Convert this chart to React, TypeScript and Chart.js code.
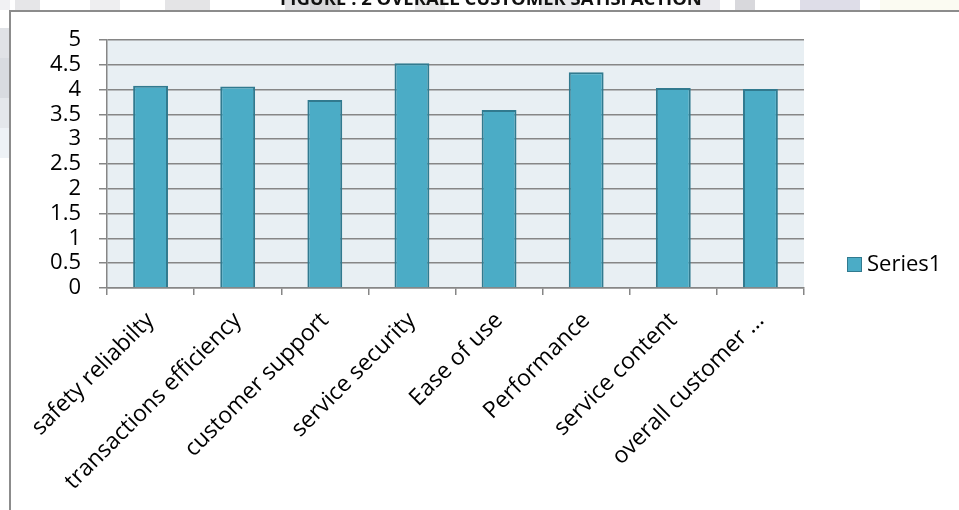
import React, { useEffect, useRef } from "react";
import { Chart, registerables } from "chart.js";

Chart.register(...registerables);

const categories: string[] = [
  "safety reliabilty",
  "transactions efficiency",
  "customer support",
  "service security",
  "Ease of use",
  "Performance",
  "service content",
  "overall customer ...",
];
const seriesName = "Series1";
const series1: number[] = [4.08, 4.06, 3.79, 4.53, 3.59, 4.35, 4.03, 4.01];
const yMin = 0;
const yMax = 5;
const yStep = 0.5;
const titleText = "FIGURE : 2 OVERALL CUSTOMER SATISFACTION";

const FONT = "'Open Sans', 'Noto Sans', sans-serif";
const BAR_FILL = "#4bacc6";
const BAR_EDGE = "#317a8f";
const GRID = "#868686";
const PLOT_BG = "#e8eff3";

const decorPlugin = {
  id: "decor",
  beforeDraw(chart: any) {
    const { ctx, width, height, chartArea } = chart;
    ctx.save();
    ctx.fillStyle = "#ffffff";
    ctx.fillRect(0, 0, width, height);
    // faint scanned-page blocks around the frame
    const blocks: [number, number, number, number, string][] = [
      [0, 0, 10, 10, "#f1f1f3"],
      [15, 0, 25, 10, "#e6e6e8"],
      [90, 0, 30, 10, "#eeeef0"],
      [165, 0, 45, 10, "#e4e4e6"],
      [285, 0, 25, 10, "#e2e2e4"],
      [310, 0, 30, 10, "#d6d6d9"],
      [415, 0, 30, 10, "#e9e9eb"],
      [540, 0, 40, 10, "#e6e6e9"],
      [690, 0, 30, 10, "#eaeaee"],
      [735, 0, 20, 10, "#d8d8dc"],
      [800, 0, 60, 10, "#dedde8"],
      [880, 0, 79, 10, "#fbfbf2"],
      [0, 28, 9, 30, "#e0e2e6"],
      [0, 58, 9, 40, "#d8dbe0"],
      [0, 98, 9, 30, "#e4e7eb"],
      [0, 128, 9, 30, "#eef2f6"],
    ];
    for (const [x, y, w, h, c] of blocks) {
      ctx.fillStyle = c;
      ctx.fillRect(x, y, w, h);
    }
    // plot area background
    ctx.fillStyle = PLOT_BG;
    ctx.fillRect(chartArea.left, chartArea.top, chartArea.right - chartArea.left, chartArea.bottom - chartArea.top);
    // frame
    ctx.strokeStyle = "#8c8c8c";
    ctx.lineWidth = 2;
    ctx.beginPath();
    ctx.moveTo(10, height + 5);
    ctx.lineTo(10, 11);
    ctx.lineTo(width + 5, 11);
    ctx.stroke();
    // title (cut off by the top edge)
    ctx.fillStyle = "#111";
    ctx.font = `bold 18.5px ${FONT}`;
    ctx.textAlign = "center";
    ctx.textBaseline = "alphabetic";
    ctx.fillText(titleText, 491, 5);
    ctx.restore();
  },
  afterDraw(chart: any) {
    const { ctx } = chart;
    const ds = chart.data.datasets[0];
    ctx.save();
    ctx.fillStyle = ds.backgroundColor;
    ctx.fillRect(847, 257, 15, 15);
    ctx.strokeStyle = ds.borderColor;
    ctx.lineWidth = 1;
    ctx.strokeRect(847.5, 257.5, 14, 14);
    ctx.fillStyle = "#000";
    ctx.font = `22px ${FONT}`;
    ctx.textAlign = "left";
    ctx.textBaseline = "middle";
    ctx.fillText(ds.label, 867, 265);
    ctx.restore();
  },
};

export default function App() {
  const ref = useRef<HTMLCanvasElement | null>(null);
  useEffect(() => {
    if (!ref.current) return;
    const chart = new Chart(ref.current, {
      type: "bar",
      data: {
        labels: categories,
        datasets: [
          {
            label: seriesName,
            data: series1,
            backgroundColor: BAR_FILL,
            borderColor: BAR_EDGE,
            borderWidth: 2,
            categoryPercentage: 1,
            barPercentage: 0.4,
          },
        ],
      },
      options: {
        animation: false,
        responsive: false,
        devicePixelRatio: 1,
        layout: { padding: { left: 0, top: 40, right: 155, bottom: 0 } },
        plugins: { legend: { display: false }, tooltip: { enabled: false }, title: { display: false } },
        scales: {
          x: {
            offset: true,
            afterFit: (s: any) => {
              s.height = 222;
            },
            grid: {
              offset: true,
              drawOnChartArea: false,
              drawTicks: true,
              tickLength: 7,
              color: GRID,
              lineWidth: 1.5,
            },
            border: { color: GRID, width: 1.5 },
            ticks: {
              autoSkip: false,
              maxRotation: 45,
              minRotation: 45,
              padding: 12,
              color: "#000",
              font: { family: FONT, size: 23 },
            },
          },
          y: {
            min: yMin,
            max: yMax,
            afterFit: (s: any) => {
              s.width = 107;
            },
            grid: { color: GRID, lineWidth: 1.5, tickLength: 8, drawTicks: true },
            border: { color: GRID, width: 1.5 },
            ticks: {
              autoSkip: false,
              stepSize: yStep,
              padding: 18,
              color: "#000",
              font: { family: FONT, size: 22 },
              callback: (v: any) => String(v),
            },
          },
        },
      },
      plugins: [decorPlugin],
    });
    return () => chart.destroy();
  }, []);
  return (
    <div style={{ position: "absolute", left: 0, top: 0, width: 959, height: 510 }}>
      <canvas ref={ref} width={959} height={510} style={{ display: "block" }} />
    </div>
  );
}
